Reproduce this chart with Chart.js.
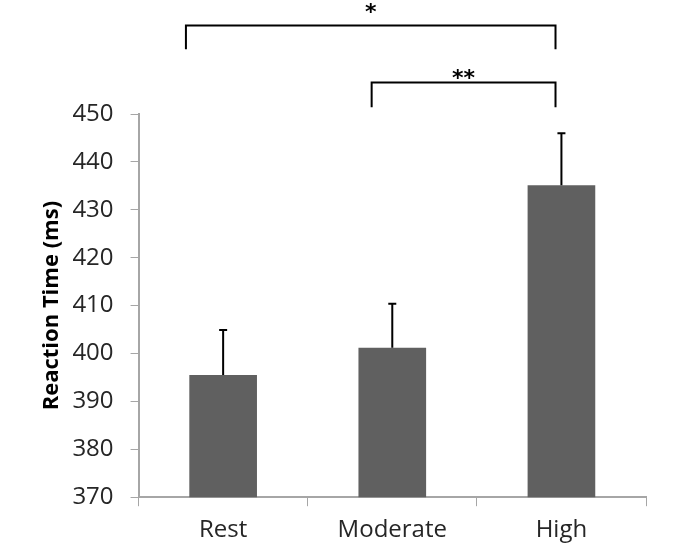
<!DOCTYPE html>
<html>
<head>
<meta charset="utf-8">
<script src="https://cdn.jsdelivr.net/npm/chart.js@4/dist/chart.umd.min.js"></script>
<style>
  html, body { margin: 0; padding: 0; background: #fff; }
  canvas { display: block; }
</style>
</head>
<body>
<canvas id="rtChart" width="676" height="544"></canvas>
<script>
// data
const categories = ['Rest', 'Moderate', 'High'];
const meanRT = [395.5, 401.2, 435.1];
const errorRT = [9.4, 9.2, 10.9];
const yMin = 370;
const yMax = 450;
const yStep = 10;

// significance brackets (category positions, y in ms units)
const bracketFrom = [-0.22, 0.878];
const bracketTo = [1.965, 1.965];
const bracketTop = [468.5, 456.6];
const bracketBottom = [463.5, 451.4];
const bracketLabels = ['*', '**'];
const bracketLabelY = [472.1, 458.3];

const axisGray = '#a6a6a6';
const textColor = '#262626';

Chart.defaults.font.family = "'Open Sans', 'Noto Sans', sans-serif";

const errorBars = {
    id: 'errorBars',
    afterDatasetsDraw(chart) {
        const ctx = chart.ctx;
        const yScale = chart.scales.y;
        const meta = chart.getDatasetMeta(0);
        ctx.save();
        ctx.strokeStyle = '#000';
        ctx.lineWidth = 2;
        meta.data.forEach((bar, i) => {
            const top = yScale.getPixelForValue(meanRT[i] + errorRT[i]);
            ctx.beginPath();
            ctx.moveTo(bar.x, bar.y);
            ctx.lineTo(bar.x, top);
            ctx.moveTo(bar.x - 4, top);
            ctx.lineTo(bar.x + 4, top);
            ctx.stroke();
        });
        ctx.restore();
    }
};

const brackets = {
    id: 'brackets',
    afterDraw(chart) {
        const ctx = chart.ctx;
        const x = chart.scales.x;
        const y = chart.scales.y;
        ctx.save();
        ctx.strokeStyle = '#000';
        ctx.lineWidth = 2;
        ctx.fillStyle = '#000';
        ctx.font = "bold 22px 'DejaVu Sans', sans-serif";
        ctx.textAlign = 'center';
        ctx.textBaseline = 'middle';
        for (let i = 0; i < bracketLabels.length; i++) {
            const x1 = x.getPixelForValue(bracketFrom[i]);
            const x2 = x.getPixelForValue(bracketTo[i]);
            const yt = y.getPixelForValue(bracketTop[i]);
            const yb = y.getPixelForValue(bracketBottom[i]);
            ctx.beginPath();
            ctx.moveTo(x1, yb);
            ctx.lineTo(x1, yt);
            ctx.lineTo(x2, yt);
            ctx.lineTo(x2, yb);
            ctx.stroke();
            // asterisk glyph sits high in the em box, shift down to centre it
            ctx.fillText(bracketLabels[i], (x1 + x2) / 2, y.getPixelForValue(bracketLabelY[i]) + 5);
        }
        ctx.restore();
    }
};

new Chart(document.getElementById('rtChart').getContext('2d'), {
    type: 'bar',
    data: {
        labels: categories,
        datasets: [{
            data: meanRT,
            backgroundColor: '#606060',
            borderWidth: 0,
            barPercentage: 0.4,
            categoryPercentage: 1.0
        }]
    },
    options: {
        responsive: false,
        animation: false,
        layout: { padding: { top: 114, right: 30, left: 39, bottom: -11 } },
        plugins: {
            legend: { display: false },
            tooltip: { enabled: false }
        },
        scales: {
            x: {
                grid: {
                    display: true,
                    offset: true,
                    drawOnChartArea: false,
                    color: axisGray,
                    tickLength: 9
                },
                border: { color: axisGray, width: 2 },
                ticks: { color: textColor, font: { size: 24 }, padding: 10 }
            },
            y: {
                min: yMin,
                max: yMax,
                grid: {
                    drawOnChartArea: false,
                    color: axisGray,
                    tickLength: 8
                },
                border: { color: axisGray, width: 2 },
                ticks: { stepSize: yStep, color: textColor, font: { size: 24 }, padding: 17 },
                title: {
                    display: true,
                    text: 'Reaction Time (ms)',
                    color: '#000',
                    font: { size: 22, weight: 'bold' },
                    padding: { top: 0, bottom: -10 }
                }
            }
        }
    },
    plugins: [errorBars, brackets]
});
</script>
</body>
</html>
